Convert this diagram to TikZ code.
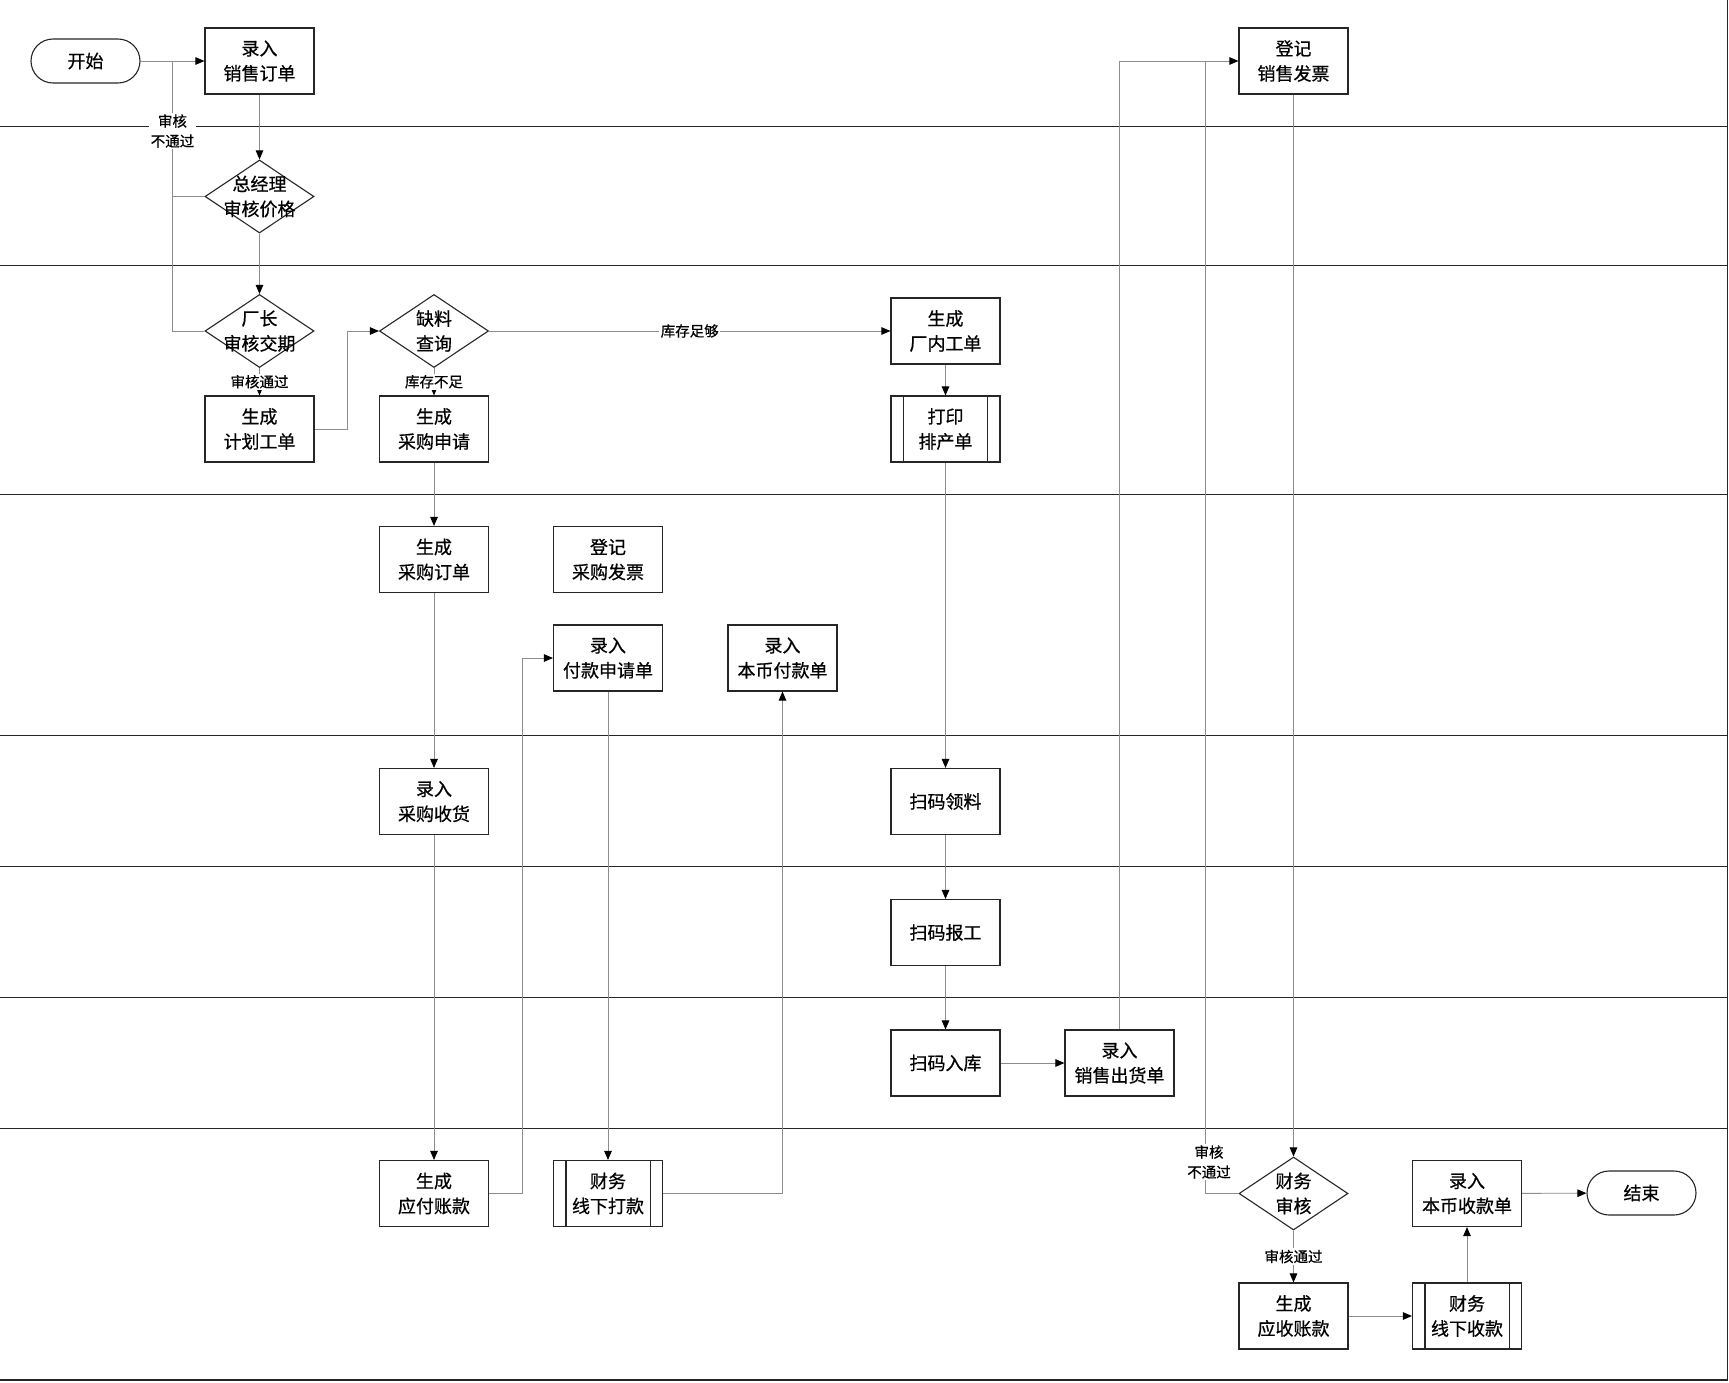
\documentclass[tikz,border=0pt]{standalone}
\usepackage{fontspec}
\newfontfamily\cjk{Noto Sans CJK SC}[FakeBold=0.6]
\usetikzlibrary{arrows.meta,shapes.geometric}
\begin{document}
\begin{tikzpicture}[x=1pt,y=-1pt,
  box/.style={draw=black!85,line width=1.1pt,fill=white,minimum width=109pt,minimum height=66pt,inner sep=0pt,align=center,font=\cjk\fontsize{18}{25}\selectfont},
  term/.style={box,rounded corners=22pt,minimum height=44pt},
  dia/.style={draw=black!85,line width=1.1pt,fill=white,diamond,minimum width=109pt,minimum height=73pt,inner sep=0pt,aspect=1.49},
  dtext/.style={align=center,inner sep=0pt,font=\cjk\fontsize{18}{25}\selectfont},
  lane/.style={draw=black!85,line width=1.4pt},
  line/.style={draw=black!45,line width=0.9pt},
  conn/.style={line,-{Triangle[length=9pt,width=7.5pt,color=black]}},
  lbl/.style={fill=white,inner sep=1.5pt,align=center,font=\cjk\fontsize{14.5}{20}\selectfont},
]
\useasboundingbox (0,0) rectangle (1729,1383);
% lanes
\foreach \yy in {126.5,265.5,494.5,735.5,866.5,997.5,1128.5,1380}
  \draw[lane] (0,\yy) -- (1727.5,\yy);
\draw[lane] (1727.5,0) -- (1727.5,1380);

% nodes
\node[term] (start) at (85.5,61) {开始};
\node[box] (order) at (259.5,61) {录入\\销售订单};
\node[dia] (gm) at (259.5,196.5) {};
\node[dtext] at (gm.center) {总经理\\审核价格};
\node[dia] (fm) at (259.5,331) {};
\node[dtext] at (fm.center) {厂长\\审核交期};
\node[box] (plan) at (259.5,429) {生成\\计划工单};
\node[dia] (short) at (434,331) {};
\node[dtext] at (short.center) {缺料\\查询};
\node[box] (preq) at (434,429) {生成\\采购申请};
\node[box] (wo) at (945.5,331) {生成\\厂内工单};
\node[box] (sched) at (945.5,429) {打印\\排产单};
\node[box] (po) at (434,559.5) {生成\\采购订单};
\node[box] (pinv) at (608,559.5) {登记\\采购发票};
\node[box] (payreq) at (608,658) {录入\\付款申请单};
\node[box] (lpay) at (782.5,658) {录入\\本币付款单};
\node[box] (rcv) at (434,801.5) {录入\\采购收货};
\node[box] (pick) at (945.5,801.5) {扫码领料};
\node[box] (rep) at (945.5,932.5) {扫码报工};
\node[box] (stock) at (945.5,1063) {扫码入库};
\node[box] (ship) at (1119.5,1063) {录入\\销售出货单};
\node[box] (ap) at (434,1193.5) {生成\\应付账款};
\node[box] (pay) at (608,1193.5) {财务\\线下打款};
\node[box] (sinv) at (1293.5,61) {登记\\销售发票};
\node[dia] (fa) at (1293.5,1193.5) {};
\node[dtext] at (fa.center) {财务\\审核};
\node[box] (ar) at (1293.5,1316) {生成\\应收账款};
\node[box] (rec) at (1467,1316) {财务\\线下收款};
\node[box] (lrec) at (1467,1193.5) {录入\\本币收款单};
\node[term] (end) at (1641.5,1193) {结束};

\foreach \n in {sched,pay,rec}{
  \draw[draw=black!85,line width=1.1pt] ([xshift=13pt]\n.north west) -- ([xshift=13pt]\n.south west);
  \draw[draw=black!85,line width=1.1pt] ([xshift=-13pt]\n.north east) -- ([xshift=-13pt]\n.south east);
}

\coordinate (jL) at (172.5,61);
\coordinate (jR) at (1205.5,61);

% connectors
\draw[line] (gm.west) -| (jL);
\draw[line] (fm.west) -| (jL);
\draw[line] (fa.west) -| (jR);
\draw[conn] (start) -- (order);
\draw[conn] (order) -- (gm);
\draw[conn] (gm) -- (fm);
\draw[conn] (fm) -- node[lbl]{审核通过} (plan);
\draw[conn] (plan.east) -- ++(32.7,0) |- (short.west);
\draw[conn] (short) -- node[lbl]{库存不足} (preq);
\draw[conn] (short) -- node[lbl]{库存足够} (wo);
\draw[conn] (wo) -- (sched);
\draw[conn] (sched) -- (pick);
\draw[conn] (pick) -- (rep);
\draw[conn] (rep) -- (stock);
\draw[conn] (stock) -- (ship);
\draw[conn] (ship.north) |- (sinv.west);
\draw[conn] (sinv) -- (fa);
\draw[conn] (fa) -- node[lbl]{审核通过} (ar);
\draw[conn] (ar) -- (rec);
\draw[conn] (rec) -- (lrec);
\draw[conn] (lrec) -- (end);
\draw[conn] (preq) -- (po);
\draw[conn] (po) -- (rcv);
\draw[conn] (rcv) -- (ap);
\draw[conn] (ap.east) -- ++(33.3,0) |- (payreq.west);
\draw[conn] (payreq) -- (pay);
\draw[conn] (pay.east) -| (lpay.south);

\node[lbl] (rejL) at (172.5,131) {审核\\不通过};
\node[lbl] (rejR) at (1209,1162) {审核\\不通过};
\end{tikzpicture}
\end{document}
